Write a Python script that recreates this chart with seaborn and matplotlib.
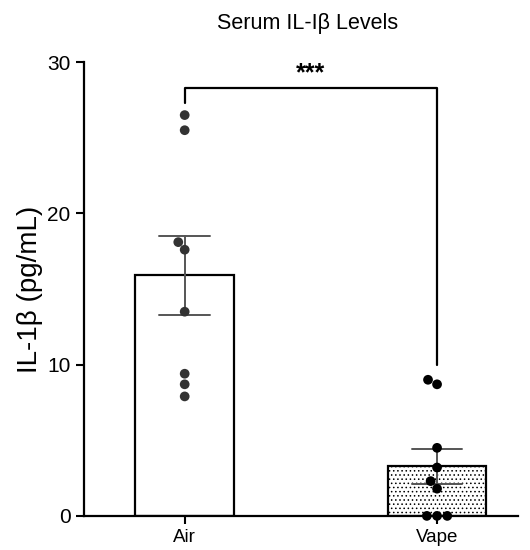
import matplotlib
matplotlib.use("Agg")
import matplotlib.pyplot as plt
import seaborn as sns
import pandas as pd

# values
groups = ["Air", "Vape"]
air_values = [26.5, 25.5, 18.1, 17.6, 13.5, 9.4, 8.7, 7.9]
vape_values = [9.0, 8.7, 4.5, 3.2, 2.3, 1.8, 0.0, 0.0, 0.0]
y_ticks = [0, 10, 20, 30]
bracket_y = 28.3
bracket_legs = [27.3, 10.0]
sig_label = "***"

df = pd.DataFrame({
    "group": ["Air"] * len(air_values) + ["Vape"] * len(vape_values),
    "value": air_values + vape_values,
})

sns.set_style("ticks")
plt.rcParams["font.family"] = ["Liberation Sans", "DejaVu Sans"]
plt.rcParams["hatch.linewidth"] = 0.6
plt.rcParams["text.color"] = "black"
plt.rcParams["xtick.color"] = "black"
plt.rcParams["ytick.color"] = "black"
plt.rcParams["axes.labelcolor"] = "black"

fig = plt.figure(figsize=(5.3, 5.5), dpi=100)
ax = fig.add_axes([0.158, 0.062, 0.819, 0.825])

sns.barplot(data=df, x="group", y="value", order=groups, errorbar="se",
            capsize=0.2, width=0.39, color="white", edgecolor="black",
            linewidth=1.6, err_kws={"color": "#555555", "linewidth": 1.4},
            ax=ax, zorder=2)
ax.patches[1].set_hatch("....")

sns.swarmplot(data=df, x="group", y="value", order=groups, hue="group",
              palette={"Air": "#333333", "Vape": "black"}, size=7,
              legend=False, ax=ax, zorder=4)
for c in ax.collections:
    c.set_clip_on(False)

# significance bracket
ax.plot([0, 0, 1, 1], [bracket_legs[0], bracket_y, bracket_y, bracket_legs[1]],
        color="black", linewidth=1.6, clip_on=False)
ax.text(0.5, bracket_y + 0.15, sig_label, ha="center", va="bottom", fontsize=18,
        fontweight="bold")

ax.set_ylim(0, 30)
ax.set_xlim(-0.4, 1.32)
ax.set_yticks(y_ticks)
ax.tick_params(axis="y", labelsize=15, width=1.5, length=6)
ax.tick_params(axis="x", labelsize=13.5, width=1.5, length=6)
for s in ["left", "bottom"]:
    ax.spines[s].set_linewidth(1.6)
    ax.spines[s].set_color("black")
sns.despine(ax=ax)
ax.set_xlabel("")
ax.set_ylabel("IL-1β (pg/mL)", fontsize=20, labelpad=3)
fig.text(0.58, 0.958, "Serum IL-Iβ Levels", ha="center", va="center", fontsize=15.5)

fig.savefig("out.png", dpi=100)
